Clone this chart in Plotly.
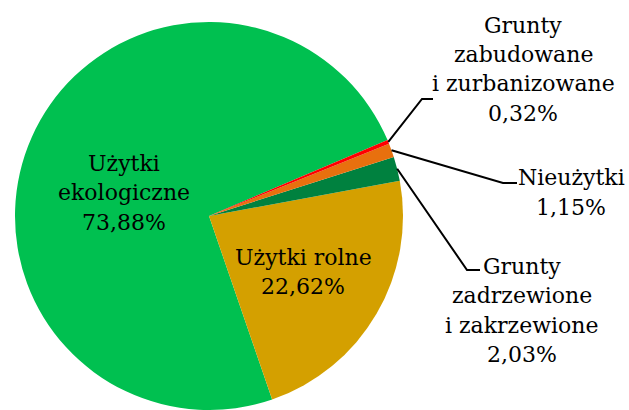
import math
import plotly.graph_objects as go

labels = ["Użytki ekologiczne", "Użytki rolne", "Grunty zadrzewione i zakrzewione",
          "Nieużytki", "Grunty zabudowane i zurbanizowane"]
values = [73.88, 22.62, 2.03, 1.15, 0.32]
colors = ["#00C050", "#D4A000", "#00813F", "#E8700E", "#FF0000"]

# text shown for each slice, one line per entry
label_lines = [
    ["Użytki", "ekologiczne"],
    ["Użytki rolne"],
    ["Grunty", "zadrzewione", "i zakrzewione"],
    ["Nieużytki"],
    ["Grunty", "zabudowane", "i zurbanizowane"],
]

W, H = 629, 410
cx, cy, R = 209, 216, 194
rotation = 161

# first line centre of each label (pixels) and leader-line elbow for outside labels
label_pos = [(124, 163), (303, 257), (522, 266), (571, 178), (523, 25)]
elbows = [None, None, ((480, 270), (467, 270)), ((517, 183), (503, 183)),
          ((433, 99), (422, 99))]
line_gap = 29.5
FONT = "DejaVu Serif"


def px(x, y):
    return x / W, 1 - y / H


def pct(v):
    return f"{v:.2f}".replace(".", ",") + "%"


fig = go.Figure(go.Pie(
    labels=labels, values=values, sort=False, direction="counterclockwise",
    rotation=rotation, textinfo="none", hoverinfo="label+percent",
    marker=dict(colors=colors, line=dict(width=0)),
    domain=dict(x=[0, 2 * cx / W], y=[0, 2 * R / H]),
    showlegend=False,
))

annotations = []
shapes = []
total = sum(values)
pos = rotation  # clockwise degrees from 12 o'clock
for i, v in enumerate(values):
    span = v / total * 360
    if i == 0:
        mid = rotation + span / 2
    else:
        pos -= span
        mid = pos + span / 2
    lines = label_lines[i] + [pct(v)]
    x0, y0 = label_pos[i]
    for k, t in enumerate(lines):
        ax, ay = px(x0, y0 + k * line_gap)
        annotations.append(dict(text=t, x=ax, y=ay, xref="paper", yref="paper",
                                showarrow=False, xanchor="center", yanchor="middle",
                                font=dict(family=FONT, size=22, color="black")))
    if elbows[i] is not None:
        a = math.radians(mid)
        ex, ey = cx + R * math.sin(a), cy - R * math.cos(a)
        (hx1, hy1), (hx0, hy0) = elbows[i]
        pts = [px(ex, ey), px(hx0, hy0), px(hx1, hy1)]
        path = "M {} {} L {} {} L {} {}".format(*[c for p in pts for c in p])
        shapes.append(dict(type="path", path=path, xref="paper", yref="paper",
                           line=dict(color="black", width=2)))

fig.update_layout(
    width=W, height=H, margin=dict(l=0, r=0, t=0, b=0),
    paper_bgcolor="white", plot_bgcolor="white",
    annotations=annotations, shapes=shapes,
)
fig.write_html("out.html", config={"displayModeBar": False},
               post_script="document.body.style.margin='0';")
